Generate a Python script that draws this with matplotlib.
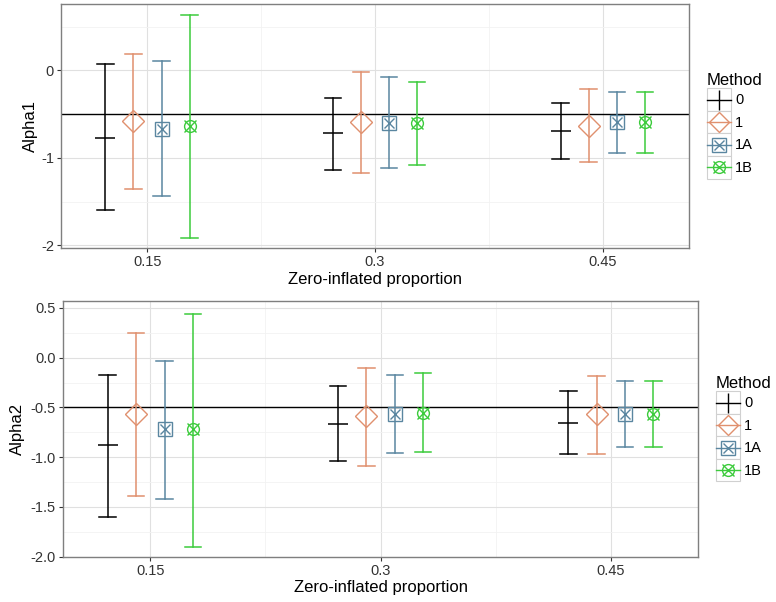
import matplotlib
matplotlib.use("Agg")
import matplotlib.pyplot as plt
from matplotlib.lines import Line2D
from matplotlib.patches import Patch
from matplotlib.legend_handler import HandlerLine2D
import numpy as np

plt.rcParams['font.family'] = ['Liberation Sans', 'DejaVu Sans']

proportions = ["0.15", "0.3", "0.45"]
methods = ["0", "1", "1A", "1B"]

# Alpha1: estimate, lower, upper per method (rows) x proportion (cols)
alpha1_est = [[-0.77, -0.72, -0.69],
              [-0.58, -0.59, -0.63],
              [-0.67, -0.60, -0.59],
              [-0.64, -0.60, -0.59]]
alpha1_low = [[-1.60, -1.14, -1.01],
              [-1.36, -1.17, -1.05],
              [-1.44, -1.11, -0.94],
              [-1.92, -1.08, -0.94]]
alpha1_high = [[0.07, -0.31, -0.37],
               [0.19, -0.02, -0.21],
               [0.11, -0.08, -0.25],
               [0.63, -0.13, -0.25]]

alpha2_est = [[-0.88, -0.67, -0.66],
              [-0.57, -0.59, -0.57],
              [-0.72, -0.57, -0.57],
              [-0.72, -0.56, -0.57]]
alpha2_low = [[-1.60, -1.04, -0.97],
              [-1.39, -1.09, -0.97],
              [-1.42, -0.96, -0.90],
              [-1.90, -0.95, -0.90]]
alpha2_high = [[-0.17, -0.28, -0.33],
               [0.25, -0.10, -0.18],
               [-0.03, -0.17, -0.23],
               [0.44, -0.15, -0.23]]

true_value = -0.5

colors = ["#000000", "#E0906E", "#5A86A0", "#3CCB3C"]
dodge = [-0.185, -0.062, 0.062, 0.185]
cap = 0.036


class CenteredLine(HandlerLine2D):
    def create_artists(self, legend, orig_handle, xdescent, ydescent,
                       width, height, fontsize, trans):
        return super().create_artists(legend, orig_handle, xdescent, ydescent,
                                      width, height - ydescent, fontsize, trans)


fig = plt.figure(figsize=(7.76, 6.02), dpi=100)
ax1 = fig.add_axes([0.0786, 0.588, 0.8094, 0.4054])
ax2 = fig.add_axes([0.0808, 0.0752, 0.8192, 0.4248])


def draw(ax, est, low, high, ylabel, yticks, yticklabels, ylim, minor_y, ylabel_x):
    x = np.arange(1, len(proportions) + 1)
    for i, m in enumerate(methods):
        xs = x + dodge[i]
        c = colors[i]
        for xx, lo, hi in zip(xs, low[i], high[i]):
            ax.plot([xx, xx], [lo, hi], color=c, lw=1.1, zorder=3)
            ax.plot([xx - cap, xx + cap], [lo, lo], color=c, lw=1.1, zorder=3)
            ax.plot([xx - cap, xx + cap], [hi, hi], color=c, lw=1.1, zorder=3)
        if m == "0":
            ax.plot(xs, est[i], ls='none', marker='_', ms=14, mew=1.1, color=c, zorder=4)
        elif m == "1":
            ax.plot(xs, est[i], ls='none', marker='D', ms=11, mew=1.0, mfc='none', mec=c, zorder=4)
        elif m == "1A":
            ax.plot(xs, est[i], ls='none', marker='s', ms=9.5, mew=1.0, mfc='none', mec=c, zorder=4)
            ax.plot(xs, est[i], ls='none', marker='x', ms=7, mew=1.0, color=c, zorder=4)
        else:
            ax.plot(xs, est[i], ls='none', marker='o', ms=8.5, mew=1.0, mfc='none', mec=c, zorder=4)
            ax.plot(xs, est[i], ls='none', marker='x', ms=9, mew=1.0, color=c, zorder=4)
    ax.axhline(true_value, color='black', lw=1.0, zorder=2)
    ax.set_xlim(0.62, 3.38)
    ax.set_ylim(*ylim)
    ax.set_xticks(x)
    ax.set_xticklabels(proportions)
    ax.set_xticks(x[:-1] + 0.5, minor=True)
    ax.set_yticks(yticks)
    ax.set_yticklabels(yticklabels)
    ax.set_yticks(minor_y, minor=True)
    ax.grid(which='major', color='#E0E0E0', lw=0.8, zorder=0)
    ax.grid(which='minor', color='#F2F2F2', lw=0.6, zorder=0)
    ax.set_axisbelow(True)
    for s in ax.spines.values():
        s.set_color('#7F7F7F')
        s.set_linewidth(1.0)
    ax.tick_params(which='major', length=3, color='#333333', labelsize=10.5, labelcolor='#333333', pad=2)
    ax.tick_params(which='minor', length=0)
    ax.set_xlabel("Zero-inflated proportion", fontsize=12, labelpad=2)
    ax.set_ylabel(ylabel, fontsize=12)
    ax.yaxis.set_label_coords(ylabel_x, 0.5)

    handles = []
    for i, m in enumerate(methods):
        c = colors[i]
        box = Patch(facecolor='white', edgecolor='#D0D0D0', lw=0.8)
        if m == "0":
            h = (box, Line2D([], [], color=c, lw=1.0, marker='|', ms=15, mew=1.0))
        elif m == "1":
            h = (box, Line2D([], [], color=c, lw=1.0, marker='D', ms=10.5, mfc='none', mec=c, mew=1.0))
        elif m == "1A":
            h = (box, Line2D([], [], color=c, lw=1.0, marker='s', ms=9.5, mfc='none', mec=c, mew=1.0),
                 Line2D([], [], ls='none', color=c, marker='x', ms=7, mew=1.0))
        else:
            h = (box, Line2D([], [], color=c, lw=1.0, marker='o', ms=8.5, mfc='none', mec=c, mew=1.0),
                 Line2D([], [], ls='none', color=c, marker='x', ms=9, mew=1.0))
        handles.append(h)
    leg = ax.legend(handles, methods, title="Method", loc='center left',
                    bbox_to_anchor=(1.0, 0.5), frameon=False, fontsize=10.5,
                    title_fontsize=12, handlelength=1.65, handleheight=2.0,
                    handletextpad=0.3, labelspacing=0.0, borderaxespad=0.9,
                    borderpad=0.3,
                    handler_map={Line2D: CenteredLine()})
    leg._legend_box.align = "left"


draw(ax1, alpha1_est, alpha1_low, alpha1_high, "Alpha1",
     [-2, -1, 0], ["-2", "-1", "0"], (-2.03, 0.76), [-1.5, -0.5, 0.5], -0.037)
draw(ax2, alpha2_est, alpha2_low, alpha2_high, "Alpha2",
     [-2.0, -1.5, -1.0, -0.5, 0.0, 0.5],
     ["-2.0", "-1.5", "-1.0", "-0.5", "0.0", "0.5"], (-2.0, 0.57),
     [-1.75, -1.25, -0.75, -0.25, 0.25], -0.059)

fig.savefig("out.png", dpi=100)
